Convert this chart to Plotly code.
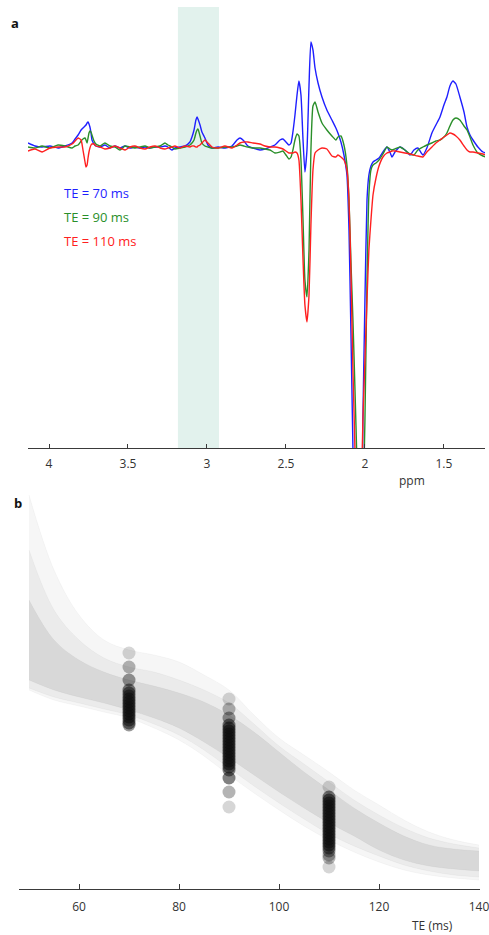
import plotly.graph_objects as go

# ---------------- Panel a : spectra ----------------
ppm = [4.133, 4.089, 4.044, 3.994, 3.943, 3.899, 3.854, 3.835, 3.816, 3.797,
       3.785, 3.772, 3.766, 3.759, 3.753, 3.747, 3.741, 3.734, 3.728, 3.715,
       3.703, 3.677, 3.646, 3.614, 3.582, 3.551, 3.519, 3.487, 3.456, 3.424,
       3.392, 3.361, 3.329, 3.297, 3.266, 3.247, 3.222, 3.203, 3.171, 3.139,
       3.108, 3.095, 3.082, 3.070, 3.063, 3.057, 3.044, 3.032, 3.013, 2.994,
       2.968, 2.930, 2.886, 2.842, 2.810, 2.791, 2.766, 2.741, 2.709, 2.665,
       2.633, 2.601, 2.570, 2.538, 2.519, 2.500, 2.481, 2.468, 2.456, 2.443,
       2.430, 2.418, 2.405, 2.392, 2.380, 2.367, 2.354, 2.342, 2.329, 2.316,
       2.297, 2.272, 2.241, 2.209, 2.184, 2.171, 2.152, 2.133, 2.114, 2.101,
       2.089, 2.076, 2.063, 2.051, 2.038, 2.025, 2.013, 2.000, 1.987, 1.975,
       1.962, 1.949, 1.930, 1.911, 1.886, 1.861, 1.842, 1.829, 1.810, 1.778,
       1.747, 1.715, 1.690, 1.665, 1.633, 1.608, 1.576, 1.551, 1.525, 1.500,
       1.481, 1.462, 1.443, 1.424, 1.399, 1.373, 1.354, 1.335, 1.316, 1.285,
       1.253, 1.234]

te70_spec = [0.4, 0.1, 0, 0.1, -0.1, 0.1, 0.4, 0.8, 1.2, 1.7,
             1.9, 2.1, 2.2, 2.4, 2.5, 2.3, 2.0, 1.4, 0.7, 0.3,
             0.1, 0, 0.2, -0.1, 0.1, -0.1, 0.1, -0.1, 0, -0.1,
             0, -0.1, 0, 0, 0.1, 0, -0.3, -0.1, 0, 0.1,
             0.5, 1.0, 1.7, 2.7, 3.0, 2.8, 2.2, 1.5, 0.9, 0.2,
             -0.1, 0, -0.1, 0.1, 0.7, 0.9, 0.6, 0.1, -0.1, -0.3,
             -0.2, 0, 0.2, 0.7, 0.8, 0.5, 0.2, 0.4, 1.5, 3.2,
             5.2, 6.6, 5.2, 0.7, -2.5, -0.3, 6.2, 10.5, 9.7, 7.9,
             6.4, 5.0, 3.7, 2.7, 1.9, 1.4, 0.5, -0.8, -2.8, -8.3,
             -18.3, -30.1, -41.3, -49.3, -51.3, -45.3, -27.3, -15.3, -5.3, -2.8,
             -1.9, -1.5, -1.3, -1.1, -0.5, 0, -0.5, -1.0, -0.5, 0,
             -0.3, -0.8, -0.3, -0.1, -0.8, -0.1, 1.4, 2.2, 3.0, 4.2,
             5.0, 6.1, 6.6, 6.3, 5.0, 3.5, 2.0, 1.2, 0.7, 0,
             -0.5, -0.6]

te90_spec = [0, -0.1, 0.1, -0.1, 0.2, 0.1, -0.1, 0.1, 0.2, 0.6,
             0.8, 0.9, 0.7, 0.4, 0.9, 1.4, 1.6, 1.5, 1.2, 0.6,
             0.3, 0.1, 0.4, 0.1, 0, -0.3, 0.1, 0, -0.1, 0,
             0.1, -0.1, 0, 0.1, 0.4, 0.2, 0, -0.2, -0.1, 0,
             0.2, 0.4, 0.7, 1.4, 1.7, 1.8, 1.1, 0.4, 0.1, 0,
             -0.1, -0.1, 0, 0, 0.1, 0.2, 0.1, 0, -0.1, -0.1,
             -0.2, -0.3, -0.6, -0.5, -0.4, -0.8, -1.2, -1.0, -0.3, 0.7,
             1.3, 1.1, -1.3, -7.3, -13.3, -15.0, -10.3, -0.3, 4.1, 4.5,
             3.5, 2.4, 1.7, 1.1, 0.7, 1.0, 1.1, 0.2, -1.8, -5.3,
             -11.3, -17.3, -24.3, -31.3, -41.3, -45.3, -37.3, -27.3, -13.3, -4.8,
             -2.3, -1.8, -1.6, -1.3, -0.7, 0, -0.2, -0.3, -0.2, 0,
             -0.3, -0.7, -0.8, -0.3, 0, 0.2, 0.4, 0.6, 0.7, 1.0,
             1.4, 2.1, 2.7, 2.9, 2.7, 2.1, 1.7, 1.0, 0.2, -0.6,
             -0.9, -1.0]

te110_spec = [-0.4, -0.2, -0.5, -0.1, 0, 0, 0.3, 0.6, 0.9, 0.7,
              -0.3, -1.5, -2.0, -1.8, -1.1, -0.5, -0.1, 0.2, 0.3, 0.3,
              0.1, 0, -0.2, -0.1, 0.1, -0.1, -0.3, 0, 0.1, -0.1,
              -0.2, 0, 0.1, -0.1, -0.2, -0.1, 0, 0.1, -0.1, 0.1,
              0, 0.1, 0.1, 0, 0, 0.1, 0.2, 0.4, 0.7, 0.4,
              0, -0.1, 0.1, -0.1, 0.2, 0.4, 0.5, 0.5, 0.4, 0.3,
              0.1, 0, 0, -0.1, -0.2, -0.4, -0.6, -0.6, -0.6, -0.5,
              -0.6, -1.3, -5.3, -11.3, -15.8, -17.5, -14.8, -7.8, -2.3, -0.6,
              -0.3, -0.1, -0.2, -0.9, -1.0, -0.8, -1.0, -1.3, -2.3, -5.3,
              -12.3, -22.3, -30.3, -41.3, -50.3, -37.3, -27.3, -21.3, -15.3, -10.3,
              -7.3, -4.8, -3.1, -1.9, -1.0, -0.6, -0.5, -0.4, -0.4, -0.5,
              -0.6, -0.7, -0.8, -0.9, -1.0, -0.5, 0, 0.4, 0.7, 1.0,
              1.2, 1.4, 1.3, 1.1, 0.7, 0.1, -0.3, -0.5, -0.5, -0.6,
              -0.7, -0.8]

band_ppm = [3.184, 2.924]
ppm_ticks = [4, 3.5, 3, 2.5, 2, 1.5]
ppm_ticktext = ["4", "3.5", "3", "2.5", "2", "1.5"]
spec_labels = ["TE = 70 ms", "TE = 90 ms", "TE = 110 ms"]

# ---------------- Panel b : decay curves ----------------
te_ms = [50, 55, 60, 65, 70, 75, 80, 85, 90, 95, 100, 105, 110, 115, 120, 125, 130, 135, 140]
outer_hi = [3.94, 3.19, 2.74, 2.49, 2.39, 2.34, 2.27, 2.14, 1.99, 1.74, 1.51, 1.34, 1.17, 0.99, 0.84, 0.69, 0.57, 0.49, 0.44]
inner_hi = [3.39, 2.79, 2.49, 2.31, 2.22, 2.17, 2.09, 1.99, 1.86, 1.65, 1.43, 1.25, 1.07, 0.89, 0.74, 0.61, 0.51, 0.45, 0.41]
core_hi = [2.89, 2.49, 2.29, 2.17, 2.09, 2.03, 1.96, 1.87, 1.74, 1.57, 1.37, 1.17, 0.99, 0.81, 0.66, 0.53, 0.44, 0.40, 0.38]
core_lo = [2.09, 1.99, 1.92, 1.86, 1.79, 1.71, 1.61, 1.47, 1.31, 1.14, 0.97, 0.81, 0.66, 0.53, 0.39, 0.29, 0.23, 0.20, 0.18]
inner_lo = [2.01, 1.92, 1.86, 1.80, 1.74, 1.65, 1.54, 1.39, 1.21, 1.03, 0.86, 0.70, 0.55, 0.43, 0.33, 0.24, 0.18, 0.14, 0.12]
outer_lo = [1.99, 1.89, 1.83, 1.77, 1.71, 1.61, 1.49, 1.33, 1.14, 0.96, 0.79, 0.63, 0.49, 0.37, 0.27, 0.19, 0.14, 0.11, 0.09]

pts_te = [70, 90, 110]
pts70_v = [2.36, 2.22, 2.09, 1.99, 1.96, 1.93, 1.90, 1.87, 1.84, 1.81, 1.78, 1.75, 1.72, 1.69, 1.66, 1.64]
pts70_n = [1, 2, 3, 4, 4, 4, 5, 5, 5, 5, 5, 5, 5, 4, 4, 3]
pts90_v = [1.90, 1.80, 1.71, 1.64, 1.61, 1.58, 1.55, 1.52, 1.49, 1.46, 1.43, 1.40, 1.37, 1.34, 1.31, 1.28, 1.25, 1.22, 1.19, 1.11, 0.97, 0.82]
pts90_n = [1, 2, 3, 4, 5, 5, 5, 5, 5, 5, 5, 5, 5, 5, 5, 5, 5, 4, 4, 4, 2, 1]
pts110_v = [1.02, 0.92, 0.89, 0.86, 0.83, 0.80, 0.77, 0.74, 0.71, 0.68, 0.65, 0.62, 0.59, 0.56, 0.53, 0.50, 0.47, 0.44, 0.41, 0.38, 0.34, 0.31, 0.22]
pts110_n = [1, 4, 5, 5, 5, 5, 5, 5, 5, 5, 5, 5, 5, 5, 5, 5, 5, 5, 4, 3, 2, 2, 1]
te_ticks = [60, 80, 100, 120, 140]

# ---------------- figure ----------------
W, H = 489, 935
FONT = "Open Sans"
AX = "#3a3a3a"


def pxx(x):
    return x / W


def pxy(y):
    return 1 - y / H


fig = go.Figure()

spec_colors = ["#1f1fff", "#2a8f2a", "#ff2020"]
for vals, col in zip([te70_spec, te90_spec, te110_spec], spec_colors):
    fig.add_trace(go.Scatter(x=ppm, y=vals, mode="lines", xaxis="x", yaxis="y",
                             line=dict(color=col, width=1.4, shape="spline", smoothing=0.5),
                             hoverinfo="skip"))

fig.add_shape(type="rect", xref="x", yref="y domain", x0=band_ppm[0], x1=band_ppm[1],
              y0=0, y1=1, fillcolor="#e2f2ed", line_width=0, layer="below")

# bands of decay curves
for lo, hi, a in [(outer_lo, outer_hi, 0.035), (inner_lo, inner_hi, 0.045), (core_lo, core_hi, 0.08)]:
    fig.add_trace(go.Scatter(x=te_ms, y=lo, mode="lines", xaxis="x2", yaxis="y2",
                             line=dict(width=0, shape="spline"), hoverinfo="skip"))
    fig.add_trace(go.Scatter(x=te_ms, y=hi, mode="lines", xaxis="x2", yaxis="y2",
                             line=dict(width=0, shape="spline"), fill="tonexty",
                             fillcolor=f"rgba(0,0,0,{a})", hoverinfo="skip"))
for edge in [outer_hi, inner_hi, core_hi, core_lo, inner_lo, outer_lo]:
    fig.add_trace(go.Scatter(x=te_ms, y=edge, mode="lines", xaxis="x2", yaxis="y2",
                             line=dict(width=0.6, shape="spline", color="rgba(0,0,0,0.06)"),
                             hoverinfo="skip"))

base_a = 0.17
for te, vals, cnts in zip(pts_te, [pts70_v, pts90_v, pts110_v], [pts70_n, pts90_n, pts110_n]):
    op = [1 - (1 - base_a) ** n for n in cnts]
    fig.add_trace(go.Scatter(x=[te] * len(vals), y=vals, mode="markers", xaxis="x2", yaxis="y2",
                             marker=dict(size=13, color="#0d0d0d", opacity=op, line=dict(width=0)),
                             hoverinfo="skip"))

axis_common = dict(showline=True, linecolor=AX, linewidth=1.2, ticks="inside", ticklen=4,
                   tickcolor=AX, tickwidth=1, showgrid=False, zeroline=False,
                   tickfont=dict(family=FONT, size=12, color="#333"), ticklabelstandoff=4,
                   ticklabeloverflow="allow", automargin=False)

fig.update_layout(
    width=W, height=H, autosize=False,
    margin=dict(l=0, r=0, t=0, b=0, autoexpand=False),
    paper_bgcolor="white", plot_bgcolor="white",
    showlegend=False,
    xaxis=dict(domain=[pxx(28), pxx(485)], range=[4.133, 1.24], anchor="y",
               tickvals=ppm_ticks, ticktext=ppm_ticktext, **axis_common),
    yaxis=dict(domain=[pxy(448), pxy(7)], range=[-30.1, 14.0], visible=False),
    xaxis2=dict(domain=[pxx(19), pxx(480)], range=[48, 140.2], anchor="y2",
                tickvals=te_ticks, **{**axis_common, "ticklen": 5, "ticklabelstandoff": 6}),
    yaxis2=dict(domain=[pxy(889), pxy(480)], range=[0, 4.09], visible=False),
)

ann = []
for i, (txt, col) in enumerate(zip(spec_labels, spec_colors)):
    ann.append(dict(text=txt, x=pxx(62), y=pxy(193 + 24 * i), xref="paper", yref="paper",
                    xanchor="left", yanchor="middle", showarrow=False,
                    font=dict(family=FONT, size=13, color=col)))
ann.append(dict(text="ppm", x=pxx(412), y=pxy(481), xref="paper", yref="paper",
                xanchor="center", yanchor="middle", showarrow=False,
                font=dict(family=FONT, size=12, color="#333")))
ann.append(dict(text="TE (ms)", x=pxx(432), y=pxy(925), xref="paper", yref="paper",
                xanchor="center", yanchor="middle", showarrow=False,
                font=dict(family=FONT, size=12, color="#333")))
ann.append(dict(text="<b>a</b>", x=pxx(15), y=pxy(23), xref="paper", yref="paper",
                xanchor="center", yanchor="middle", showarrow=False,
                font=dict(family=FONT, size=13, color="#111")))
ann.append(dict(text="<b>b</b>", x=pxx(18), y=pxy(503), xref="paper", yref="paper",
                xanchor="center", yanchor="middle", showarrow=False,
                font=dict(family=FONT, size=13, color="#111")))
fig.update_layout(annotations=ann)

fig.write_html("out.html")
